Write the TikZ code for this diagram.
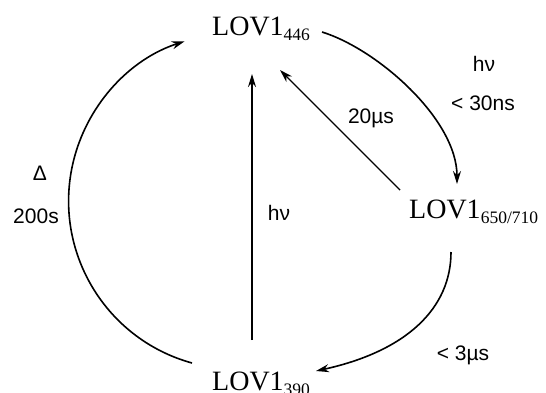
\documentclass[tikz,border=0pt]{standalone}
\usepackage{fontspec}
\setmainfont{Liberation Serif}
\newfontfamily\lblsans{Liberation Sans}
\usetikzlibrary{arrows.meta}
\tikzset{
  state/.style={inner sep=0pt, anchor=base west, font=\fontsize{28}{30}\selectfont},
  lbl/.style={inner sep=0pt, font=\lblsans\fontsize{21}{23}\selectfont},
  conn/.style={line width=1.6pt, -{Stealth[length=13pt,width=8pt]}},
  straight/.style={line width=1.4pt, -{Stealth[length=13pt,width=8pt]}}
}
\newcommand{\subs}[1]{\raisebox{-5pt}{\fontsize{17.5}{18}\selectfont #1}}
\begin{document}
\begin{tikzpicture}[x=1pt,y=-1pt]
\useasboundingbox (0,0) rectangle (546,392);
% states
\node[state] (top) at (212,35) {LOV1\subs{446}};
\node[state] (right) at (409,218) {LOV1\subs{650/710}};
\node[state] (bottom) at (212,390) {LOV1\subs{390}};
% connector end points
\coordinate (t1) at (322,32);
\coordinate (t2) at (457,184);
\coordinate (r1) at (451,252);
\coordinate (r2) at (316,371);
\coordinate (b1) at (192,363);
\coordinate (v1) at (252,340);
\coordinate (v2) at (252,74);
\coordinate (d1) at (400,190);
\coordinate (d2) at (280,70);
% arcs
\draw[conn] (t1) .. controls (377,49) and (457,119) .. (t2);
\draw[conn] (r1) .. controls (451,308) and (407,351) .. (r2);
\draw[conn] (b1) arc[start angle=105.4, end angle=252, radius=168];
% straight arrows
\draw[straight] (v1) -- (v2);
\draw[straight] (d1) -- (d2);
% labels
\node[lbl] (l1) at (484,64) {hν};
\node[lbl] (l2) at (483,103) {< 30ns};
\node[lbl] (l3) at (371,118) {20µs};
\node[lbl] (l4) at (40,173) {Δ};
\node[lbl] (l5) at (36,216) {200s};
\node[lbl] (l6) at (279,213) {hν};
\node[lbl] (l7) at (463,355) {< 3µs};
\end{tikzpicture}
\end{document}
